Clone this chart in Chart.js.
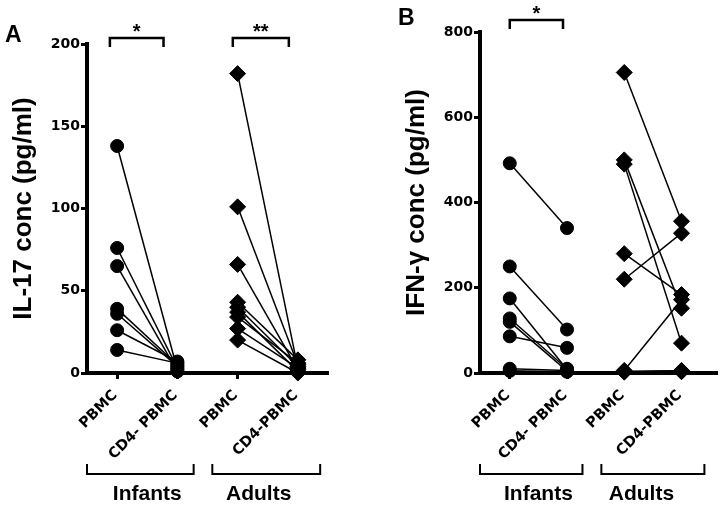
<!DOCTYPE html>
<html>
<head>
<meta charset="utf-8">
<script src="https://cdn.jsdelivr.net/npm/chart.js@4.4.1/dist/chart.umd.min.js"></script>
<style>
  html, body { margin: 0; padding: 0; background: #fff; }
  .wrap { display: flex; width: 726px; height: 507px; }
  canvas { display: block; }
</style>
</head>
<body>
<div class="wrap">
  <canvas id="panelA" width="363" height="507"></canvas>
  <canvas id="panelB" width="363" height="507"></canvas>
</div>
<script>
// x categories (infants pair, then adults pair)
const categories = ["PBMC", "CD4- PBMC", "PBMC", "CD4-PBMC"];
const groups = ["Infants", "Adults"];

// IL-17 conc (pg/ml), paired per donor
const il17InfantPBMC = [138, 76, 65, 39, 36, 26, 14];
const il17InfantCD4 = [2, 3, 1, 5, 4, 7, 6];
const il17AdultPBMC = [182, 101, 66, 43, 40, 37, 34, 27, 20];
const il17AdultCD4 = [3, 5, 2, 8, 4, 1, 6, 3, 0];
const il17Ticks = [0, 50, 100, 150, 200];

// IFN-γ conc (pg/ml), paired per donor
const ifnInfantPBMC = [492, 250, 175, 128, 120, 86, 10, 5];
const ifnInfantCD4 = [340, 102, 8, 10, 5, 59, 6, 3];
const ifnAdultPBMC = [705, 500, 490, 280, 220, 6, 4, 3, 2];
const ifnAdultCD4 = [356, 152, 70, 184, 328, 172, 5, 3, 6];
const ifnTicks = [0, 200, 400, 600, 800];

const TITLE_FONT = '"Liberation Sans", Arial, sans-serif';
const TICK_FONT = '"DejaVu Sans", sans-serif';

function pairDatasets(pbmc, cd4, x0, style, radius) {
  const sets = [];
  const pts = [];
  pbmc.forEach((v, i) => {
    const a = { x: x0, y: v };
    const b = { x: x0 + 1, y: cd4[i] };
    pts.push(a, b);
    sets.push({
      data: [a, b],
      borderColor: "#000",
      borderWidth: 1.5,
      pointRadius: 0,
      clip: false,
      order: 1
    });
  });
  sets.push({
    data: pts,
    showLine: false,
    pointStyle: style,
    pointRadius: radius,
    pointBackgroundColor: "#000",
    pointBorderColor: "#000",
    pointBorderWidth: 1,
    clip: false,
    order: 0
  });
  return sets;
}

// letters, significance brackets and group brackets under the axis
function decor(cfg) {
  return {
    id: "decor",
    afterDraw(chart) {
      const ctx = chart.ctx;
      const xs = chart.scales.x;
      const ca = chart.chartArea;
      ctx.save();
      ctx.fillStyle = "#000";
      ctx.strokeStyle = "#000";
      ctx.textBaseline = "alphabetic";

      ctx.font = "bold 23px " + TITLE_FONT;
      ctx.textAlign = "left";
      ctx.fillText(cfg.letter, cfg.letterX, cfg.letterY);

      cfg.sig.forEach(s => {
        const x1 = xs.getPixelForValue(s.from);
        const x2 = xs.getPixelForValue(s.to);
        const y = ca.top + s.dy;
        ctx.lineWidth = 2.5;
        ctx.beginPath();
        ctx.moveTo(x1, y + 9);
        ctx.lineTo(x1, y);
        ctx.lineTo(x2, y);
        ctx.lineTo(x2, y + 9);
        ctx.stroke();
        ctx.font = "bold 20px " + TITLE_FONT;
        ctx.textAlign = "center";
        ctx.fillText(s.text, (x1 + x2) / 2, y);
      });

      cfg.spans.forEach((g, i) => {
        const x1 = g.from === null ? ca.left : xs.getPixelForValue(g.from);
        const x2 = xs.getPixelForValue(g.to);
        ctx.lineWidth = 2;
        ctx.beginPath();
        ctx.moveTo(x1, 464);
        ctx.lineTo(x1, 474);
        ctx.lineTo(x2, 474);
        ctx.lineTo(x2, 464);
        ctx.stroke();
        ctx.font = "bold 21px " + TITLE_FONT;
        ctx.textAlign = "center";
        ctx.fillText(groups[i], xs.getPixelForValue(g.at), 500);
      });
      ctx.restore();
    }
  };
}

function makePanel(id, cfg) {
  const yMin = cfg.ticks[0];
  const yMax = cfg.ticks[cfg.ticks.length - 1];
  const axisGrid = {
    display: true,
    drawOnChartArea: false,
    drawTicks: true,
    tickLength: 6,
    tickWidth: 3,
    tickColor: "#000",
    color: "#000",
    offset: false
  };
  const axisBorder = { display: true, width: 4, color: "#000" };

  new Chart(document.getElementById(id), {
    type: "line",
    data: {
      datasets: [
        ...pairDatasets(cfg.infPBMC, cfg.infCD4, 0, "circle", 6.5),
        ...pairDatasets(cfg.adPBMC, cfg.adCD4, 2, "rectRot", 8)
      ]
    },
    options: {
      responsive: false,
      animation: false,
      devicePixelRatio: 1,
      layout: { padding: { top: cfg.top, right: cfg.right, bottom: 0, left: 0 } },
      plugins: { legend: { display: false }, tooltip: { enabled: false } },
      scales: {
        x: {
          type: "linear",
          min: cfg.xMin,
          max: cfg.xMax,
          afterBuildTicks: s => { s.ticks = [0, 1, 2, 3].map(v => ({ value: v })); },
          afterFit: s => { s.height = 134; },
          grid: axisGrid,
          border: axisBorder,
          ticks: {
            callback: v => categories[v],
            autoSkip: false,
            minRotation: 45,
            maxRotation: 45,
            padding: 8,
            labelOffset: -2,
            color: "#000",
            font: { family: TICK_FONT, weight: "bold", size: 14.5 }
          }
        },
        y: {
          min: yMin,
          max: yMax,
          afterFit: s => { s.width = cfg.yWidth; },
          grid: axisGrid,
          border: axisBorder,
          ticks: {
            stepSize: cfg.ticks[1] - cfg.ticks[0],
            padding: 1,
            color: "#000",
            font: { family: TICK_FONT, weight: "bold", size: 14 }
          },
          title: {
            display: true,
            text: cfg.title,
            color: "#000",
            padding: { top: cfg.titlePad, bottom: 0 },
            font: { family: TITLE_FONT, weight: "bold", size: 26 }
          }
        }
      }
    },
    plugins: [decor(cfg)]
  });
}

makePanel("panelA", {
  infPBMC: il17InfantPBMC, infCD4: il17InfantCD4,
  adPBMC: il17AdultPBMC, adCD4: il17AdultCD4,
  ticks: il17Ticks,
  title: "IL-17 conc (pg/ml)",
  top: 44, right: 35, yWidth: 87, titlePad: 8,
  xMin: -0.5, xMax: 3.5,
  letter: "A", letterX: 5, letterY: 42,
  sig: [
    { from: -0.12, to: 0.77, dy: -6, text: "*" },
    { from: 1.92, to: 2.85, dy: -6, text: "**" }
  ],
  spans: [
    { from: null, to: 1.27, at: 0.5 },
    { from: 1.58, to: 3.37, at: 2.35 }
  ]
});

makePanel("panelB", {
  infPBMC: ifnInfantPBMC, infCD4: ifnInfantCD4,
  adPBMC: ifnAdultPBMC, adCD4: ifnAdultCD4,
  ticks: ifnTicks,
  title: "IFN-γ conc (pg/ml)",
  top: 32, right: 0, yWidth: 117, titlePad: 38,
  xMin: -0.52, xMax: 3.62,
  letter: "B", letterX: 35, letterY: 25,
  sig: [
    { from: 0, to: 0.93, dy: -12, text: "*" }
  ],
  spans: [
    { from: null, to: 1.27, at: 0.5 },
    { from: 1.6, to: 3.4, at: 2.3 }
  ]
});
</script>
</body>
</html>
